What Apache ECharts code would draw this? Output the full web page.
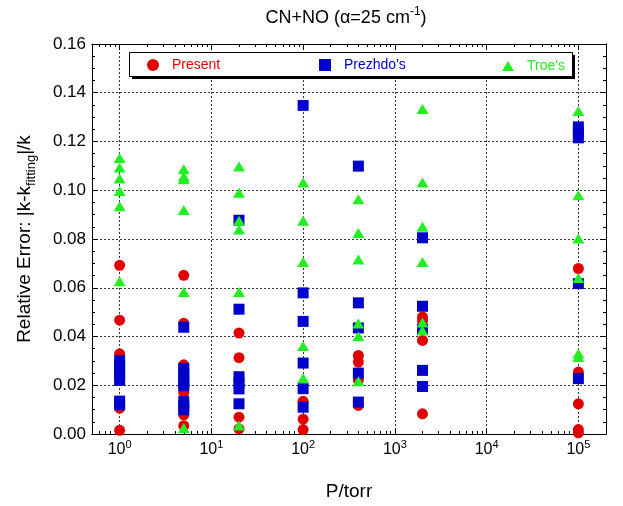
<!DOCTYPE html>
<html>
<head>
<meta charset="utf-8">
<script src="https://cdn.jsdelivr.net/npm/echarts@6/dist/echarts.min.js"></script>
<style>html,body{margin:0;padding:0;background:#fff}#c{width:623px;height:506px}</style>
</head>
<body>
<div id="c"></div>
<script>
// ---- data ----
const pressures = [1, 5, 20, 100, 400, 2000, 100000];
const present = [
  [0.0692, 0.0467, 0.0329, 0.0106, 0.0015],
  [0.0651, 0.0454, 0.0284, 0.0170, 0.0079, 0.0034],
  [0.0414, 0.0313, 0.0069, 0.0021],
  [0.0134, 0.0061, 0.0018],
  [0.0322, 0.0295, 0.0222, 0.0117],
  [0.0480, 0.0465, 0.0384, 0.0083],
  [0.0679, 0.0254, 0.0124, 0.0018, 0.0005]
];
const prezhdo = [
  [0.0300, 0.0280, 0.0260, 0.0240, 0.0220, 0.0135, 0.0120],
  [0.0438, 0.0268, 0.0250, 0.0230, 0.0210, 0.0198, 0.0133, 0.0115, 0.0100],
  [0.0877, 0.0512, 0.0235, 0.0210, 0.0185, 0.0124],
  [0.1348, 0.0579, 0.0462, 0.0291, 0.0186, 0.0110],
  [0.1099, 0.0538, 0.0435, 0.0250, 0.0131],
  [0.0805, 0.0524, 0.0430, 0.0261, 0.0195],
  [0.1260, 0.1237, 0.1215, 0.0617, 0.0227]
];
const troe = [
  [0.1132, 0.1093, 0.1048, 0.0997, 0.0934, 0.0627],
  [0.1086, 0.1056, 0.1045, 0.0919, 0.0583, 0.0025],
  [0.1097, 0.0990, 0.0875, 0.0839, 0.0583, 0.0035],
  [0.1032, 0.0875, 0.0706, 0.0361, 0.0229],
  [0.0963, 0.0825, 0.0716, 0.0453, 0.0401, 0.0216],
  [0.1333, 0.1032, 0.0850, 0.0706, 0.0457, 0.0425],
  [0.1325, 0.0979, 0.0802, 0.0640, 0.0330, 0.0316]
];
const seriesNames = ['Present', "Prezhdo's", "Troe's"];
const xMajorTicks = [1, 10, 100, 1000, 10000, 100000];
const xMinorMultipliers = [2, 3, 4, 5, 6, 7, 8, 9];
const xDecades = [0.1, 1, 10, 100, 1000, 10000, 100000];
const yTickLabels = ['0.00', '0.02', '0.04', '0.06', '0.08', '0.10', '0.12', '0.14', '0.16'];

// ---- build ----
const X_MIN = 0.5, X_MAX = 200000;
const xMinorTicks = [];
xDecades.forEach(d => xMinorMultipliers.forEach(m => {
  const v = +(d * m).toPrecision(6);
  if (v >= X_MIN && v <= X_MAX) xMinorTicks.push(v);
}));
function toPoints(values) {
  const out = [];
  pressures.forEach((p, i) => values[i].forEach(v => out.push([p, v])));
  return out;
}
const RED = '#e00000', BLUE = '#0000cc', GREEN = '#22ee22';
const FONT = '"Liberation Sans", Arial, sans-serif';
const GRID = {left: 92, right: 17, top: 44, bottom: 72};
const dotted = {type: [2, 2], color: '#333', width: 1};

function xAxisBase(pos, ticks, len, withLabels, withSplit) {
  return {
    type: 'log', logBase: 10, position: pos, min: X_MIN, max: X_MAX,
    axisLine: {show: true, lineStyle: {color: '#000', width: 1}},
    axisTick: {show: true, inside: true, length: len, customValues: ticks, lineStyle: {color: '#000'}},
    axisLabel: withLabels ? {
      show: true, customValues: xMajorTicks, margin: 5,
      formatter: v => '{b|10}{s|' + Math.round(Math.log10(v)) + '}',
      rich: {
        b: {fontSize: 16, fontFamily: FONT, color: '#000', lineHeight: 22},
        s: {fontSize: 11, fontFamily: FONT, color: '#000', verticalAlign: 'top'}
      }
    } : {show: false},
    splitLine: {show: withSplit, lineStyle: dotted},
    minorTick: {show: false}, minorSplitLine: {show: false}
  };
}
const xAxes = [
  Object.assign(xAxisBase('bottom', xMajorTicks, 6, true, true), {
    name: 'P/torr', nameLocation: 'middle', nameGap: 48,
    nameTextStyle: {fontSize: 19, fontFamily: FONT, color: '#000'}
  }),
  xAxisBase('bottom', xMinorTicks, 3, false, false),
  xAxisBase('top', xMajorTicks, 6, false, false),
  xAxisBase('top', xMinorTicks, 3, false, false)
];
function yAxisBase(pos, withLabels, withSplit) {
  return {
    type: 'value', position: pos, min: 0, max: 0.16, interval: 0.02,
    axisLine: {show: true, lineStyle: {color: '#000', width: 1}},
    axisTick: {show: true, inside: true, length: 6, lineStyle: {color: '#000'}},
    minorTick: {show: true, splitNumber: 4, length: 3, lineStyle: {color: '#000'}},
    axisLabel: withLabels ? {
      show: true, margin: 6, fontSize: 17, fontFamily: FONT, color: '#000',
      formatter: v => yTickLabels[Math.round(v / 0.02)]
    } : {show: false},
    splitLine: {show: withSplit, lineStyle: dotted}
  };
}
const yAxes = [
  Object.assign(yAxisBase('left', true, true), {
    name: 'Relative Error: |k-k{sub|fitting}|/k', nameLocation: 'middle', nameGap: 54,
    nameTextStyle: {
      fontSize: 19, fontFamily: FONT, color: '#000', lineHeight: 26,
      rich: {sub: {fontSize: 13, fontFamily: FONT, color: '#000', verticalAlign: 'bottom'}}
    }
  }),
  yAxisBase('right', false, false)
];

function legendFor(name, left, color, h, top) {
  return {
    data: [name], left: left, top: top, padding: 0, orient: 'horizontal',
    itemWidth: 12, itemHeight: h, selectedMode: false,
    formatter: n => '{s| }' + n,
    textStyle: {color: color, fontSize: 14, fontFamily: FONT, rich: {s: {width: 8}}}
  };
}

const option = {
  animation: false,
  backgroundColor: '#fff',
  title: {
    text: 'CN+NO (α=25 cm{sup|-1})', left: 346, top: 6, padding: 0, textAlign: 'center',
    textStyle: {
      fontSize: 18, fontWeight: 'normal', fontFamily: FONT, color: '#000', lineHeight: 24,
      rich: {sup: {fontSize: 12, fontFamily: FONT, color: '#000', verticalAlign: 'top'}}
    }
  },
  grid: Object.assign({outerBoundsMode: 'none', containLabel: false}, GRID),
  xAxis: xAxes,
  yAxis: yAxes,
  legend: [
    legendFor(seriesNames[0], 147, RED, 12, 58),
    legendFor(seriesNames[1], 319, BLUE, 12, 58),
    legendFor(seriesNames[2], 502, GREEN, 10, 59)
  ],
  graphic: [
    {type: 'rect', z: 3, shape: {x: 132, y: 55, width: 443, height: 24}, style: {fill: '#000'}},
    {type: 'rect', z: 3, shape: {x: 129.5, y: 52.5, width: 443, height: 24}, style: {fill: '#fff', stroke: '#000', lineWidth: 1}}
  ],
  series: [
    {name: seriesNames[0], type: 'scatter', data: toPoints(present), symbol: 'circle', symbolSize: 11,
     itemStyle: {color: RED, opacity: 1}, emphasis: {disabled: true}},
    {name: seriesNames[1], type: 'scatter', data: toPoints(prezhdo), symbol: 'rect', symbolSize: 11,
     itemStyle: {color: BLUE, opacity: 1}, emphasis: {disabled: true}},
    {name: seriesNames[2], type: 'scatter', data: toPoints(troe), symbol: 'triangle', symbolSize: [12, 10],
     itemStyle: {color: GREEN, opacity: 1}, emphasis: {disabled: true}}
  ]
};
const chart = echarts.init(document.getElementById('c'), null, {renderer: 'canvas'});
chart.setOption(option);
</script>
</body>
</html>
